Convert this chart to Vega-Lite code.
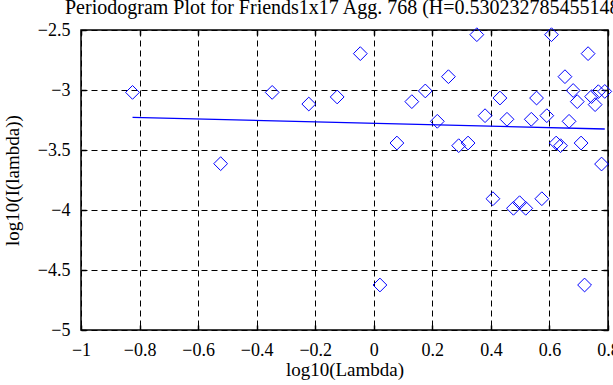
{
  "$schema": "https://vega.github.io/schema/vega-lite/v6.json",
  "width": 527,
  "height": 300,
  "autosize": {"type": "none"},
  "padding": {"left": 81, "top": 30, "right": 5, "bottom": 55},
  "background": "white",
  "config": {
    "view": {"stroke": "black", "strokeWidth": 1.5},
    "font": "Liberation Serif",
    "axis": {
      "labelFont": "Liberation Serif",
      "titleFont": "Liberation Serif",
      "labelFontSize": 18,
      "titleFontSize": 19,
      "titleFontWeight": "normal",
      "labelColor": "black",
      "titleColor": "black",
      "domain": false,
      "tickColor": "black",
      "tickWidth": 1.5,
      "tickSize": -5,
      "grid": true,
      "gridColor": "black",
      "gridOpacity": 1,
      "gridDash": [6, 4],
      "gridWidth": 1,
      "format": "~g"
    }
  },
  "title": {
    "text": "Periodogram Plot for Friends1x17 Agg. 768 (H=0.530232785455148)",
    "font": "Liberation Serif",
    "fontSize": 20,
    "fontWeight": "normal",
    "color": "black",
    "anchor": "start",
    "frame": "group",
    "dx": -16,
    "dy": 8,
    "offset": 11
  },
  "datasets": {
    "pts": [
      {"lx": -0.824, "ly": -3.02},
      {"lx": -0.523, "ly": -3.614},
      {"lx": -0.347, "ly": -3.02},
      {"lx": -0.222, "ly": -3.117},
      {"lx": -0.125, "ly": -3.058},
      {"lx": -0.046, "ly": -2.697},
      {"lx": 0.021, "ly": -4.625},
      {"lx": 0.079, "ly": -3.442},
      {"lx": 0.130, "ly": -3.097},
      {"lx": 0.176, "ly": -3.008},
      {"lx": 0.217, "ly": -3.261},
      {"lx": 0.255, "ly": -2.889},
      {"lx": 0.290, "ly": -3.464},
      {"lx": 0.322, "ly": -3.442},
      {"lx": 0.352, "ly": -2.539},
      {"lx": 0.380, "ly": -3.214},
      {"lx": 0.407, "ly": -3.906},
      {"lx": 0.431, "ly": -3.067},
      {"lx": 0.455, "ly": -3.244},
      {"lx": 0.477, "ly": -3.986},
      {"lx": 0.498, "ly": -3.939},
      {"lx": 0.519, "ly": -3.986},
      {"lx": 0.538, "ly": -3.244},
      {"lx": 0.556, "ly": -3.067},
      {"lx": 0.574, "ly": -3.906},
      {"lx": 0.591, "ly": -3.214},
      {"lx": 0.607, "ly": -2.539},
      {"lx": 0.623, "ly": -3.442},
      {"lx": 0.638, "ly": -3.464},
      {"lx": 0.653, "ly": -2.889},
      {"lx": 0.667, "ly": -3.261},
      {"lx": 0.681, "ly": -3.004},
      {"lx": 0.695, "ly": -3.097},
      {"lx": 0.708, "ly": -3.442},
      {"lx": 0.720, "ly": -4.625},
      {"lx": 0.732, "ly": -2.697},
      {"lx": 0.744, "ly": -3.055},
      {"lx": 0.756, "ly": -3.122},
      {"lx": 0.767, "ly": -3.014},
      {"lx": 0.778, "ly": -3.617},
      {"lx": 0.789, "ly": -3.012}
    ],
    "fit": [
      {"lx": -0.824, "ly": -3.228},
      {"lx": 0.789, "ly": -3.325}
    ]
  },
  "layer": [
    {
      "data": {"name": "pts"},
      "mark": {"type": "point", "shape": "diamond", "filled": false, "stroke": "#0000ff", "strokeWidth": 1, "size": 190, "opacity": 1},
      "encoding": {
        "x": {"field": "lx", "type": "quantitative", "scale": {"domain": [-1, 0.8], "nice": false, "zero": false},
              "axis": {"title": "log10(Lambda)", "orient": "bottom", "values": [-1, -0.8, -0.6, -0.4, -0.2, 0, 0.2, 0.4, 0.6, 0.8], "labelPadding": 16, "titlePadding": 1, "labelFlush": false, "labelOverlap": false, "labelBound": false}},
        "y": {"field": "ly", "type": "quantitative", "scale": {"domain": [-5, -2.5], "nice": false, "zero": false},
              "axis": {"title": "log10(I(lambda))", "orient": "left", "values": [-5, -4.5, -4, -3.5, -3, -2.5], "labelPadding": 16, "titlePadding": 15, "labelFlush": false, "labelOverlap": false}}
      }
    },
    {
      "data": {"name": "fit"},
      "mark": {"type": "line", "color": "#0000ff", "strokeWidth": 1.3},
      "encoding": {
        "x": {"field": "lx", "type": "quantitative", "scale": {"domain": [-1, 0.8], "nice": false, "zero": false},
              "axis": {"orient": "top", "title": null, "labels": false, "grid": false, "values": [-1, -0.8, -0.6, -0.4, -0.2, 0, 0.2, 0.4, 0.6, 0.8]}},
        "y": {"field": "ly", "type": "quantitative", "scale": {"domain": [-5, -2.5], "nice": false, "zero": false},
              "axis": {"orient": "right", "title": null, "labels": false, "grid": false, "values": [-5, -4.5, -4, -3.5, -3, -2.5]}}
      }
    }
  ],
  "resolve": {"axis": {"x": "independent", "y": "independent"}}
}
